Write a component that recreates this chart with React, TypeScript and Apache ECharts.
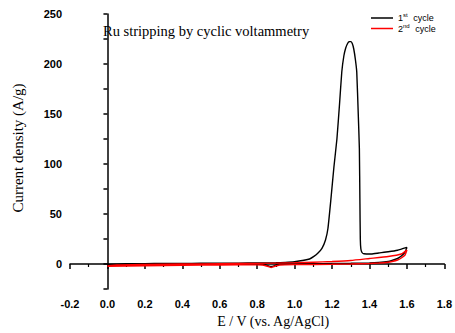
import React, { useEffect, useRef } from "react";
import * as echarts from "echarts";

// E (V vs. Ag/AgCl), current density (A/g)
const cycle1Forward: [number, number][] = [
  [0.0, -0.5], [0.1, 0.2], [0.2, 0.4], [0.3, 0.5], [0.4, 0.6], [0.5, 0.7], [0.6, 0.8],
  [0.7, 0.9], [0.8, 1.0], [0.9, 1.2], [0.95, 1.6], [1.0, 2.3], [1.05, 3.7], [1.08, 5.0],
  [1.103, 7.6], [1.125, 11], [1.146, 15.6], [1.165, 24], [1.178, 35.5], [1.194, 65],
  [1.21, 97], [1.226, 125], [1.24, 160], [1.252, 192], [1.263, 208], [1.273, 216],
  [1.283, 220.5], [1.292, 222.3], [1.3, 222.4], [1.308, 220.5], [1.316, 215], [1.325, 204],
  [1.332, 192], [1.34, 150], [1.346, 115], [1.349, 60], [1.351, 25], [1.354, 15],
  [1.36, 11.5], [1.37, 10.2], [1.41, 10], [1.45, 11], [1.5, 12.2], [1.55, 13.8], [1.6, 16.6],
];
const cycle1Reverse: [number, number][] = [
  [1.6, 16.6], [1.59, 12], [1.57, 8], [1.55, 5.5], [1.52, 3.5], [1.5, 2.5], [1.45, 1.5],
  [1.4, 1.0], [1.3, 0.7], [1.2, 0.5], [1.1, 0.3], [1.0, 0.1], [0.95, 0], [0.91, -0.5],
  [0.89, -1.8], [0.875, -2.5], [0.86, -1.8], [0.84, -0.5], [0.8, 0], [0.7, 0],
  [0.5, -0.3], [0.3, -0.5], [0.1, -0.8], [0.0, -1],
];
const cycle2Forward: [number, number][] = [
  [0.0, -2], [0.05, -1], [0.2, -0.5], [0.4, 0], [0.6, 0.3], [0.8, 0.6], [1.0, 1.2],
  [1.1, 1.8], [1.2, 2.5], [1.3, 3.5], [1.4, 5.5], [1.5, 7.5], [1.57, 10], [1.6, 14],
];
const cycle2Reverse: [number, number][] = [
  [1.6, 14], [1.59, 9], [1.57, 6], [1.55, 4], [1.52, 2.5], [1.5, 1.8], [1.45, 1],
  [1.4, 0.5], [1.3, 0], [1.2, -0.3], [1.0, -0.6], [0.92, -1], [0.89, -2.5],
  [0.875, -3.5], [0.86, -2.5], [0.83, -1], [0.8, -0.8], [0.6, -1], [0.4, -1.3],
  [0.2, -1.7], [0.0, -2.3],
];

const seriesNames = ["1st cycle", "2nd cycle"];
const seriesColors = ["#000000", "#ff0000"];
const chartTitle = "Ru stripping by cyclic voltammetry";
const xAxisTitle = "E / V (vs. Ag/AgCl)";
const yAxisTitle = "Current density (A/g)";

export default function App() {
  const ref = useRef<HTMLDivElement>(null);
  useEffect(() => {
    document.body.style.margin = "0";
    if (!ref.current) return;
    const chart = echarts.init(ref.current, null, { renderer: "svg" });
    const axisFont = {
      fontFamily: "Liberation Sans, Arial",
      fontSize: 11,
      fontWeight: "bold" as const,
      color: "#000",
    };
    chart.setOption({
      animation: false,
      backgroundColor: "#fff",
      title: {
        text: chartTitle,
        left: 103,
        top: 23,
        padding: 0,
        textStyle: {
          fontFamily: "Liberation Serif, Times New Roman",
          fontSize: 14.5,
          fontWeight: "normal",
          color: "#000",
        },
      },
      legend: {
        orient: "vertical",
        left: 371,
        top: 12,
        padding: 0,
        itemGap: 0,
        itemWidth: 22,
        itemHeight: 1.5,
        icon: "rect",
        data: seriesNames,
        formatter: (name: string) => {
          const num = name.charAt(0);
          const sup = name.slice(1, 3);
          const rest = name.slice(3);
          return `{n|${num}}{s|${sup}}{n|${rest}}`;
        },
        textStyle: {
          fontFamily: "Liberation Sans, Arial",
          fontSize: 9,
          color: "#000",
          rich: {
            n: { fontFamily: "Liberation Sans, Arial", fontSize: 9, lineHeight: 12, color: "#000" },
            s: {
              fontFamily: "Liberation Sans, Arial",
              fontSize: 6,
              lineHeight: 12,
              verticalAlign: "top",
              color: "#000",
              padding: [0, 3, 0, 0],
            },
          },
        },
      },
      grid: { left: 70, right: 8, top: 14, bottom: 43, containLabel: false },
      xAxis: {
        type: "value",
        min: -0.2,
        max: 1.8,
        interval: 0.2,
        name: xAxisTitle,
        nameLocation: "middle",
        nameGap: 25,
        nameTextStyle: {
          fontFamily: "Liberation Serif, Times New Roman",
          fontSize: 14,
          color: "#000",
          padding: [0, 0, 0, 32],
        },
        axisLine: { show: true, lineStyle: { color: "#000", width: 1.5 } },
        axisTick: { show: true, length: 5, lineStyle: { color: "#000", width: 1.5 } },
        minorTick: { show: true, splitNumber: 2, length: 3, lineStyle: { color: "#000", width: 1.2 } },
        splitLine: { show: false },
        axisLabel: { ...axisFont, margin: 9, formatter: (v: number) => v.toFixed(1) },
      },
      yAxis: {
        type: "value",
        min: -25,
        max: 250,
        interval: 25,
        name: yAxisTitle,
        nameLocation: "middle",
        nameGap: 45,
        nameTextStyle: {
          fontFamily: "Liberation Serif, Times New Roman",
          fontSize: 15,
          color: "#000",
          padding: [0, 0, 0, 7],
        },
        axisLine: { show: true, lineStyle: { color: "#000", width: 1.5 } },
        axisTick: { show: true, length: 4, lineStyle: { color: "#000", width: 1.5 } },
        splitLine: { show: false },
        axisLabel: {
          ...axisFont,
          margin: 8,
          formatter: (v: number) => (v % 50 === 0 ? String(v) : ""),
        },
      },
      series: [
        {
          name: seriesNames[0],
          type: "line",
          data: [...cycle1Forward, ...cycle1Reverse],
          symbol: "none",
          smooth: 0.15,
          lineStyle: { color: seriesColors[0], width: 1.4 },
          itemStyle: { color: seriesColors[0] },
        },
        {
          name: seriesNames[1],
          type: "line",
          data: [...cycle2Forward, ...cycle2Reverse],
          symbol: "none",
          smooth: 0.15,
          lineStyle: { color: seriesColors[1], width: 1.4 },
          itemStyle: { color: seriesColors[1] },
        },
      ],
    });
    return () => chart.dispose();
  }, []);
  return <div ref={ref} style={{ width: 455, height: 333 }} />;
}
